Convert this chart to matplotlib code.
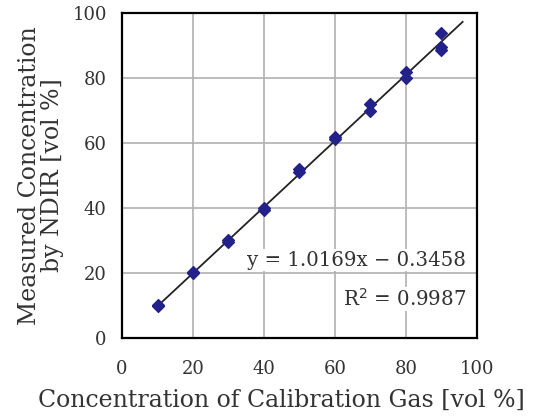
import matplotlib.pyplot as plt
import numpy as np

# calibration gas concentration vs NDIR reading (two runs per level)
gas_conc = [10, 10, 20, 20, 30, 30, 40, 40, 50, 50, 60, 60, 70, 70, 80, 80, 90, 90, 90]
ndir_conc = [10, 10.3, 20, 20.2, 29.6, 30.2, 39.3, 40, 51, 52, 61.2, 62, 70, 72, 80, 82, 88.6, 89.4, 94]

slope, intercept = 1.0169, -0.3458
r2 = 0.9987
fit_x = np.array([10, 96])

plt.rcParams['font.family'] = ['DejaVu Serif']
text_color = '#333333'

fig = plt.figure(figsize=(5.4, 4.2), dpi=100)
ax = fig.add_axes([0.226, 0.195, 0.657, 0.774])

ax.plot(fit_x, slope * fit_x + intercept, color='#222222', lw=1.3, zorder=2)
ax.scatter(gas_conc, ndir_conc, marker='D', s=36, color='#22228a', zorder=3)

ax.set_xlim(0, 100)
ax.set_ylim(0, 100)
ax.set_xticks(range(0, 101, 20))
ax.set_yticks(range(0, 101, 20))
ax.grid(True, color='#b0b0b0', lw=1.2)
ax.set_axisbelow(True)
for s in ax.spines.values():
    s.set_linewidth(1.6)
    s.set_color('black')
ax.tick_params(length=0, pad=11, labelsize=13, labelcolor=text_color)
ax.tick_params(axis='x', pad=16)

ax.set_xlabel('Concentration of Calibration Gas [vol %]', fontsize=17,
              color=text_color)
ax.xaxis.set_label_coords(0.45, -0.155)
ax.set_ylabel('Measured Concentration\nby NDIR [vol %]', fontsize=17,
              color=text_color, labelpad=6, linespacing=1.0)

ax.text(97, 24, f'y = {slope:.4f}x \u2212 {abs(intercept):.4f}', ha='right',
        va='center', fontsize=14.2, color=text_color,
        bbox=dict(facecolor='white', edgecolor='none', pad=1))
ax.text(97, 12, f'R$^2$ = {r2:.4f}', ha='right', va='center',
        fontsize=14.2, color=text_color,
        bbox=dict(facecolor='white', edgecolor='none', pad=1))

fig.savefig('out.png', dpi=100)
